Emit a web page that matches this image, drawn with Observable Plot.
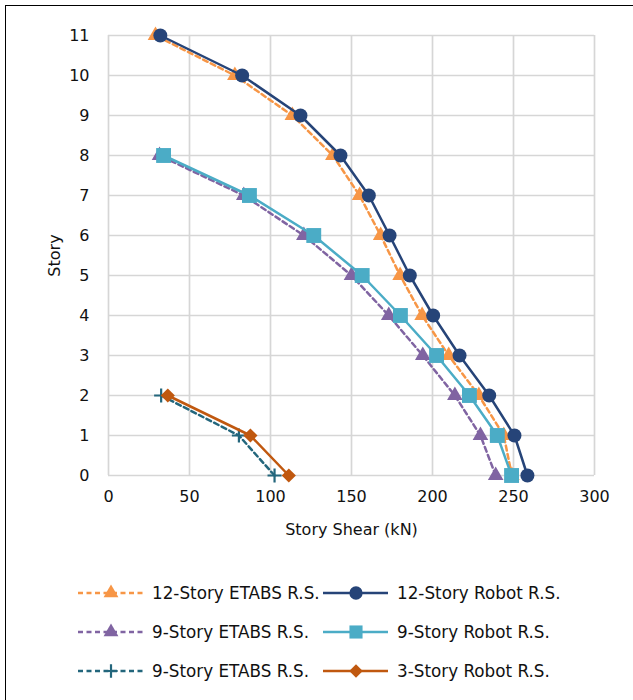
<!DOCTYPE html>
<html>
<head>
<meta charset="utf-8">
<script src="https://cdn.jsdelivr.net/npm/d3@7"></script>
<script src="https://cdn.jsdelivr.net/npm/@observablehq/plot@0.6"></script>
<style>
  html, body { margin: 0; padding: 0; background: #fff; overflow: hidden; }
  body { width: 633px; height: 700px; position: relative; font-family: "DejaVu Sans", Verdana, sans-serif; }
  #frame { position: absolute; left: 5px; top: 5px; width: 700px; height: 800px; border: 1.5px solid #000; box-sizing: border-box; }
  #chart { position: absolute; left: 0; top: 0; }
  #legend { position: absolute; left: 0; top: 0; width: 633px; height: 700px; pointer-events: none; }
  .item { position: absolute; display: flex; align-items: center; font-size: 16.8px; color: #111; white-space: nowrap; }
  .item svg { margin-right: 9px; overflow: visible; }
</style>
</head>
<body>
<div id="frame"></div>
<div id="chart"></div>
<div id="legend"></div>
<script>
// ---- data ----
const storiesAll = [0, 1, 2, 3, 4, 5, 6, 7, 8, 9, 10, 11];
const xTicks = [0, 50, 100, 150, 200, 250, 300];
const yTicks = [0, 1, 2, 3, 4, 5, 6, 7, 8, 9, 10, 11];

const etabs12 = [249, 244, 228.6, 210, 193.6, 180, 168, 155, 138.5, 113.5, 78, 29];
const robot12 = [258.6, 250.6, 235, 216.7, 200.4, 186, 173.5, 160.7, 143.2, 118.5, 82.5, 32];
const etabs9  = [239, 229.6, 213.8, 194, 173, 150, 120.6, 83.5, 31.5];
const robot9  = [248.8, 240, 222.8, 202.5, 180.2, 156.6, 126.7, 87, 34];
const etabs3  = [102.5, 80.5, 32.5];
const robot3  = [111.3, 87.6, 36.6];

const seriesNames = [
  "12-Story ETABS R.S.", "12-Story Robot R.S.",
  "9-Story ETABS R.S.",  "9-Story Robot R.S.",
  "9-Story ETABS R.S.",  "3-Story Robot R.S."
];
const seriesValues = [etabs12, robot12, etabs9, robot9, etabs3, robot3];
const seriesColors = ["#F79646", "#264478", "#8064A2", "#4BACC6", "#23667C", "#C0580F"];
const seriesDash   = ["5,3.5", null, "5,3.5", null, "5,3.5", null];
const seriesSymbol = ["triangle", "circle", "triangle", "square", "plus", "diamond2"];
const seriesR      = [5.8, 7, 5.8, 8.4, 4.6, 6.4];

const series = seriesValues.map((vals, i) => ({
  name: seriesNames[i], color: seriesColors[i], dash: seriesDash[i],
  symbol: seriesSymbol[i], r: seriesR[i],
  data: vals.map((v, j) => ({shear: v, story: storiesAll[j]}))
}));

// drawing order: dashed series beneath solid ones
const order = [0, 2, 4, 1, 3, 5];

const marks = [
  Plot.gridX(xTicks, {stroke: "#d6d6d6", strokeOpacity: 1, strokeWidth: 1.7}),
  Plot.gridY(yTicks, {stroke: "#d6d6d6", strokeOpacity: 1, strokeWidth: 1.7}),
  Plot.axisX(xTicks, {tickSize: 0, tickPadding: 15, fontSize: 16, label: "Story Shear (kN)", labelAnchor: "center", labelOffset: 59, labelArrow: "none"}),
  Plot.axisY(yTicks, {tickSize: 0, tickPadding: 19, fontSize: 16, label: "Story", labelAnchor: "center", labelOffset: 60, labelArrow: "none"})
];
for (const i of order) {
  const s = series[i];
  marks.push(Plot.line(s.data, {x: "shear", y: "story", stroke: s.color, strokeWidth: 2.5, strokeDasharray: s.dash || undefined}));
  if (s.symbol === "plus") {
    marks.push(Plot.dot(s.data, {x: "shear", y: "story", symbol: "plus", r: s.r, stroke: s.color, strokeWidth: 2.2}));
  } else {
    marks.push(Plot.dot(s.data, {x: "shear", y: "story", symbol: s.symbol, r: s.r, fill: s.color, stroke: "none"}));
  }
}

const chart = Plot.plot({
  width: 633, height: 560,
  marginLeft: 108, marginRight: 39, marginTop: 35, marginBottom: 85,
  style: {fontFamily: "DejaVu Sans, Verdana, sans-serif", fontSize: "16.5px", color: "#111", background: "transparent"},
  x: {domain: [0, 300]},
  y: {domain: [0, 11]},
  marks
});
document.getElementById("chart").appendChild(chart);

// ---- legend ----
const legend = document.getElementById("legend");
const rowY = [593, 632, 671];
const colX = [78, 323];
series.forEach((s, i) => {
  const row = Math.floor(i / 2), col = i % 2;
  const item = document.createElement("div");
  item.className = "item";
  item.style.left = colX[col] + "px";
  item.style.top = (rowY[row] - 11) + "px";
  item.style.height = "22px";
  const sw = d3.create("svg").attr("width", 65).attr("height", 22);
  sw.append("line").attr("x1", 0).attr("x2", 65).attr("y1", 11).attr("y2", 11)
    .attr("stroke", s.color).attr("stroke-width", 2.5)
    .attr("stroke-dasharray", s.dash || null);
  const symMap = {triangle: d3.symbolTriangle, circle: d3.symbolCircle, square: d3.symbolSquare, plus: d3.symbolPlus, diamond2: d3.symbolDiamond2};
  const scale = s.symbol === "square" ? 0.88 : 0.95;
  const size = Math.PI * (s.r * scale) ** 2;
  const p = sw.append("path").attr("transform", "translate(33,11)")
    .attr("d", d3.symbol(symMap[s.symbol], size)());
  if (s.symbol === "plus") p.attr("fill", "none").attr("stroke", s.color).attr("stroke-width", 2.2);
  else p.attr("fill", s.color);
  item.appendChild(sw.node());
  const t = document.createElement("span");
  t.textContent = s.name;
  item.appendChild(t);
  legend.appendChild(item);
});
</script>
</body>
</html>
